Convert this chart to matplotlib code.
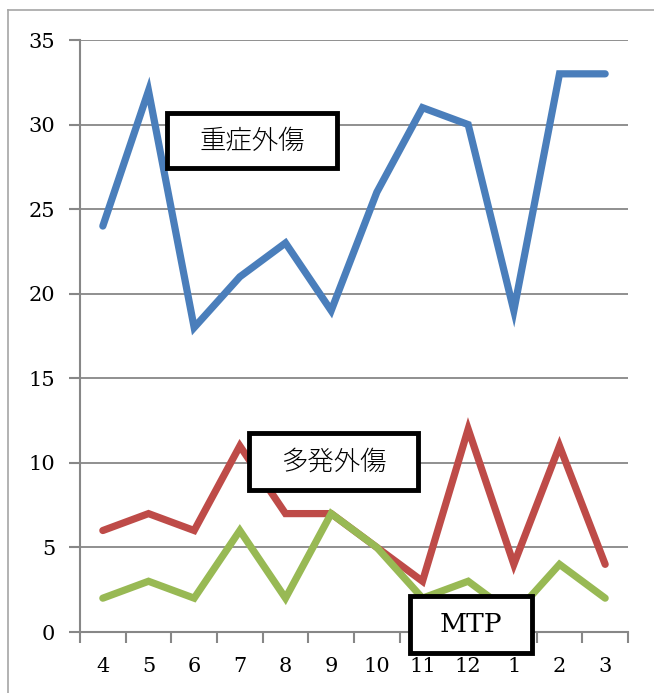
import matplotlib.pyplot as plt
from matplotlib.patches import Rectangle
from matplotlib.lines import Line2D

months = ['4', '5', '6', '7', '8', '9', '10', '11', '12', '1', '2', '3']
severe = [24, 32, 18, 21, 23, 19, 26, 31, 30, 19, 33, 33]
multiple = [6, 7, 6, 11, 7, 7, 5, 3, 12, 4, 11, 4]
mtp = [2, 3, 2, 6, 2, 7, 5, 2, 3, 1, 4, 2]

W, H = 654, 693
fig = plt.figure(figsize=(W / 100, H / 100), dpi=100)
ax = fig.add_axes([80 / W, 1 - 632 / H, (628 - 80) / W, (632 - 40) / H])

grey = '#878787'
x = range(len(months))
ax.plot(x, severe, color='#4A7EBB', lw=5.2, solid_capstyle='round', solid_joinstyle='miter', zorder=3)
ax.plot(x, multiple, color='#BE4B48', lw=5.2, solid_capstyle='round', solid_joinstyle='miter', zorder=3)
ax.plot(x, mtp, color='#98B954', lw=5.2, solid_capstyle='round', solid_joinstyle='miter', zorder=4)

ax.set_xlim(-0.5, len(months) - 0.5)
ax.set_ylim(0, 35)
ax.set_yticks(range(0, 36, 5))
ax.set_xticks(list(x))
ax.set_xticklabels(months)
ax.set_xticks([i - 0.5 for i in range(len(months) + 1)], minor=True)
ax.grid(axis='y', color=grey, lw=1.3)
ax.set_axisbelow(True)
for s in ['top', 'right']:
    ax.spines[s].set_visible(False)
for s in ['left', 'bottom']:
    ax.spines[s].set_color(grey)
    ax.spines[s].set_linewidth(1.5)
ax.tick_params(axis='y', length=8, width=1.5, color=grey, pad=10)
ax.tick_params(axis='x', which='major', length=0, pad=18)
ax.tick_params(axis='x', which='minor', length=8, width=1.5, color=grey)
for lab in ax.get_xticklabels() + ax.get_yticklabels():
    lab.set_fontfamily('DejaVu Serif')
    lab.set_fontsize(15)

# outer chart border
fig.add_artist(Line2D([8 / W, 8 / W], [0, 1 - 10 / H], transform=fig.transFigure, color='#A6A6A6', lw=1.2))
fig.add_artist(Line2D([8 / W, 1], [1 - 10 / H, 1 - 10 / H], transform=fig.transFigure, color='#A6A6A6', lw=1.2))

boxes = [('重症外傷', 167, 113, 337, 168, ['Noto Sans CJK JP']),
         ('多発外傷', 249, 433, 418, 490, ['Noto Sans CJK JP']),
         ('MTP', 410, 596, 532, 653, ['DejaVu Serif'])]
for text, x0, y0, x1, y1, fam in boxes:
    fig.add_artist(Rectangle((x0 / W, 1 - y1 / H), (x1 - x0) / W, (y1 - y0) / H,
                             transform=fig.transFigure, facecolor='white',
                             edgecolor='black', lw=3.5, zorder=10))
    fig.text((x0 + x1) / 2 / W, 1 - (y0 + y1) / 2 / H, text, ha='center', va='center',
             fontsize=19, family=fam, fontweight='light', zorder=11)

fig.savefig('out.png', dpi=100)
